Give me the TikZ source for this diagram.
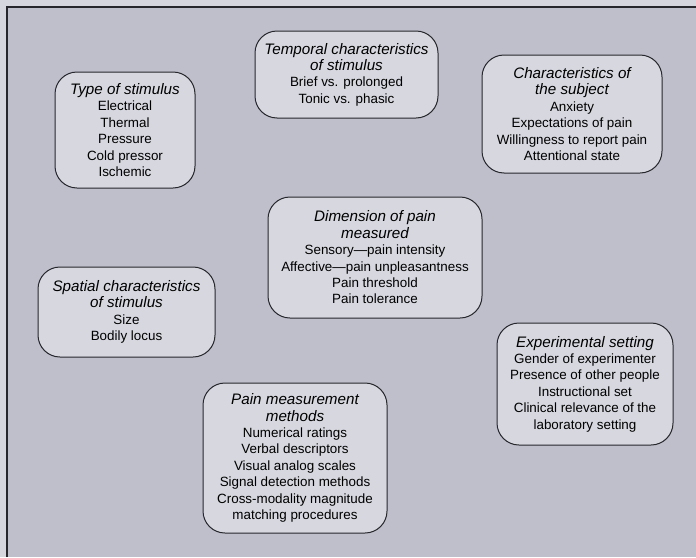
\documentclass[tikz,border=0pt]{standalone}
\usepackage{fontspec}
\setmainfont{Liberation Sans}
\definecolor{outerbg}{HTML}{D6D7DE}
\definecolor{panelbg}{HTML}{BEBFCB}
\definecolor{boxfill}{HTML}{D6D7DF}
\definecolor{edge}{HTML}{26262C}
\tikzset{
  factor/.style={draw=edge, line width=1pt, fill=boxfill, rounded corners=22pt,
    align=center, inner sep=0pt, font=\fontsize{13.4}{16.4}\selectfont},
}
\newcommand{\hd}[1]{{\fontsize{15.2}{16.4}\selectfont\itshape #1}}
\begin{document}
\begin{tikzpicture}[x=1pt,y=-1pt]
\useasboundingbox (0,0) rectangle (696,557);
\fill[outerbg] (0,0) rectangle (696,557);
\fill[panelbg] (7,7) rectangle (696,557);
\draw[edge, line width=1.2pt] (7,557) -- (7,7) -- (696,7);

\node[factor, minimum width=140pt, minimum height=116pt] (type) at (125,130)
  {\hd{Type of stimulus}\\Electrical\\Thermal\\Pressure\\Cold pressor\\Ischemic};
\node[factor, minimum width=183pt, minimum height=87pt] (temp) at (346.5,74.5)
  {\hd{Temporal characteristics}\\\hd{of stimulus}\\Brief vs. prolonged\\Tonic vs. phasic};
\node[factor, minimum width=180pt, minimum height=118pt] (subj) at (572,114)
  {\hd{Characteristics of}\\\hd{the subject}\\Anxiety\\Expectations of pain\\Willingness to report pain\\Attentional state};
\node[factor, minimum width=214pt, minimum height=121pt] (dim) at (375,257.5)
  {\hd{Dimension of pain}\\\hd{measured}\\Sensory---pain intensity\\Affective---pain unpleasantness\\Pain threshold\\Pain tolerance};
\node[factor, minimum width=177pt, minimum height=90pt] (spat) at (126.5,312)
  {\hd{Spatial characteristics}\\\hd{of stimulus}\\Size\\Bodily locus};
\node[factor, minimum width=176pt, minimum height=122pt] (exp) at (585,384)
  {\hd{Experimental setting}\\Gender of experimenter\\Presence of other people\\Instructional set\\Clinical relevance of the\\laboratory setting};
\node[factor, minimum width=184pt, minimum height=150pt] (meth) at (295,458)
  {\hd{Pain measurement}\\\hd{methods}\\Numerical ratings\\Verbal descriptors\\Visual analog scales\\Signal detection methods\\Cross-modality magnitude\\matching procedures};
\end{tikzpicture}
\end{document}
